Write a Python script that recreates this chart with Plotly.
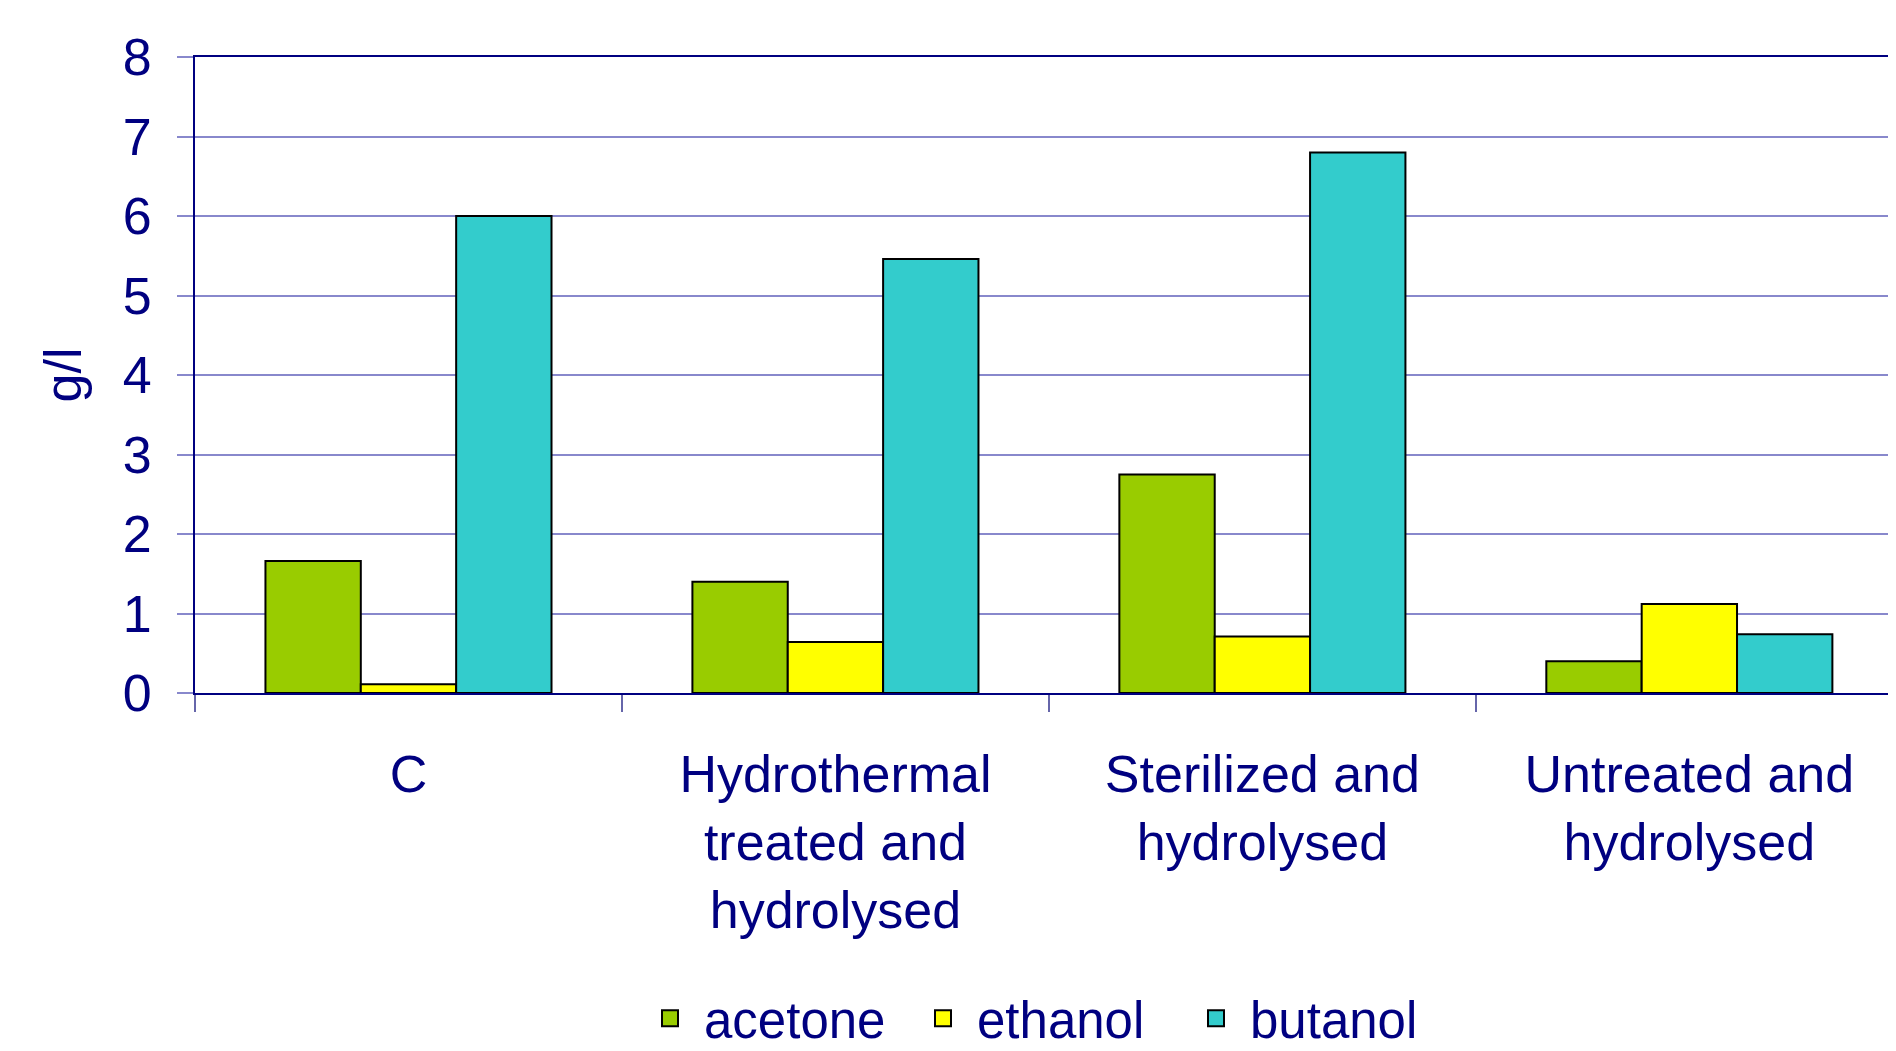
import plotly.graph_objects as go

categories = ["C", "Hydrothermal<br>treated and<br>hydrolysed", "Sterilized and<br>hydrolysed", "Untreated and<br>hydrolysed"]
series_names = ["acetone", "ethanol", "butanol"]
acetone = [1.66, 1.40, 2.75, 0.40]
ethanol = [0.11, 0.64, 0.71, 1.12]
butanol = [6.00, 5.46, 6.80, 0.74]
colors = ["#99CC00", "#FFFF00", "#33CCCC"]
y_ticks = [0, 1, 2, 3, 4, 5, 6, 7, 8]

NAVY = "#000080"
FONT = "Liberation Sans, Arial, sans-serif"

fig = go.Figure()
for name, vals, col in zip(series_names, [acetone, ethanol, butanol], colors):
    fig.add_trace(go.Bar(
        x=categories, y=vals, name=name, showlegend=False, legendgroup=name,
        marker=dict(color=col, line=dict(color="#000000", width=2)),
    ))
# legend swatches (larger squares than the default bar swatch)
for name, col in zip(series_names, colors):
    fig.add_trace(go.Scatter(
        x=[None], y=[None], name=name, mode="markers", legendgroup=name,
        marker=dict(symbol="square", size=24, color=col, line=dict(color="#000000", width=2)),
        hoverinfo="skip",
    ))

fig.update_layout(
    width=1888, height=1043,
    margin=dict(l=187, r=0, t=49, b=358),
    paper_bgcolor="white", plot_bgcolor="white",
    barmode="group", bargap=0.33, bargroupgap=0,
    font=dict(family=FONT, size=52, color=NAVY),
    showlegend=True,
    legend=dict(orientation="h", x=0.5, xanchor="center", yref="container", y=0.031, yanchor="middle",
                font=dict(size=51, color=NAVY), itemwidth=58, itemsizing="trace",
                entrywidth=200, entrywidthmode="pixels"),
    xaxis=dict(
        range=[-0.5, 3.484], showline=True, linecolor=NAVY, linewidth=2, mirror=True,
        ticks="outside", tickson="boundaries", ticklen=17, tickcolor="#6666AA", tickwidth=1.5,
        showgrid=False, ticklabelstandoff=35,
        tickfont=dict(size=52, color=NAVY, family=FONT),
    ),
    yaxis=dict(
        range=[0, 8], tickvals=y_ticks, showline=True, linecolor=NAVY, linewidth=2,
        ticks="outside", ticklen=16, tickcolor="#8888CC", tickwidth=1.5,
        showgrid=True, gridcolor="#8888CC", gridwidth=1.5, zeroline=False,
        ticklabelstandoff=15,
        tickfont=dict(size=52, color=NAVY, family=FONT),
        title=dict(text="g/l", font=dict(size=52, color=NAVY, family=FONT), standoff=24),
    ),
)

fig.write_html("out.html")
